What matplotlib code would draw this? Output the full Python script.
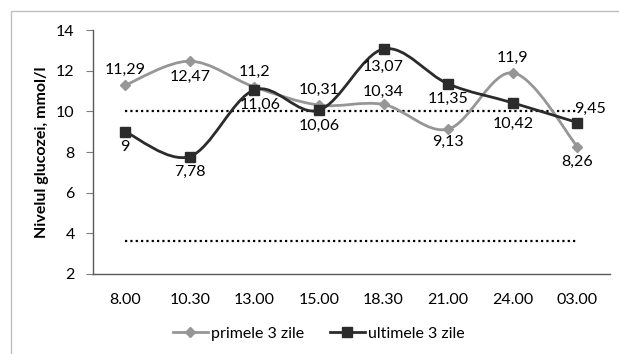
import matplotlib.pyplot as plt
import numpy as np
from matplotlib.path import Path
from matplotlib.patches import PathPatch, Rectangle
from matplotlib.lines import Line2D

plt.rcParams['font.family'] = ['Lato', 'DejaVu Sans']

# ore de masurare si valorile glicemiei
ore = ['8.00', '10.30', '13.00', '15.00', '18.30', '21.00', '24.00', '03.00']
primele = [11.29, 12.47, 11.2, 10.31, 10.34, 9.13, 11.9, 8.26]
ultimele = [9, 7.78, 11.06, 10.06, 13.07, 11.35, 10.42, 9.45]
limita_sus = 10
limita_jos = 3.6

gri = '#969696'
negru = '#2b2b2b'
fs = 11.5


def curba_neteda(x, y):
    # bezier prin puncte (ca la liniile netezite din Excel)
    pts = np.column_stack([x, y]).astype(float)
    n = len(pts)
    verts = [pts[0]]
    codes = [Path.MOVETO]
    for i in range(n - 1):
        p0 = pts[i - 1] if i > 0 else pts[i]
        p1 = pts[i]
        p2 = pts[i + 1]
        p3 = pts[i + 2] if i + 2 < n else pts[i + 1]
        c1 = p1 + (p2 - p0) / 6
        c2 = p2 - (p3 - p1) / 6
        verts += [c1, c2, p2]
        codes += [Path.CURVE4] * 3
    return Path(verts, codes)


fig = plt.figure(figsize=(6.19, 3.54), dpi=100)
ax = fig.add_axes([0.150, 0.226, 0.835, 0.689])

x = np.arange(len(ore))

ax.plot([0, len(ore) - 1], [limita_sus, limita_sus], color='black', linestyle=(0, (1, 1.4)), lw=1.6)
ax.plot([0, len(ore) - 1], [limita_jos, limita_jos], color='black', linestyle=(0, (1, 1.4)), lw=1.6)

ax.add_patch(PathPatch(curba_neteda(x, primele), fill=False, edgecolor=gri, lw=2.0, zorder=3))
ax.plot(x, primele, linestyle='none', marker='D', ms=5, color=gri, zorder=4)
ax.add_patch(PathPatch(curba_neteda(x, ultimele), fill=False, edgecolor=negru, lw=2.0, zorder=5))
ax.plot(x, ultimele, linestyle='none', marker='s', ms=7, color=negru, zorder=6)

# etichete cu valori
def eticheta(v):
    return ('%g' % v).replace('.', ',')

off_primele = [(0, 11), (0, -11), (0, 11), (0, 11), (0, 9), (0, -9), (0, 11), (0, -11)]
off_ultimele = [(0, -11), (0, -11), (4, -11), (0, -11), (0, -13), (0, -11), (0, -15), (9, 10)]
for i, v in enumerate(primele):
    ax.annotate(eticheta(v), (x[i], v), xytext=off_primele[i], textcoords='offset points',
                ha='center', va='center', fontsize=fs, color='black', zorder=7)
for i, v in enumerate(ultimele):
    ax.annotate(eticheta(v), (x[i], v), xytext=off_ultimele[i], textcoords='offset points',
                ha='center', va='center', fontsize=fs, color='black', zorder=7)

ax.set_xlim(-0.5, len(ore) - 0.5)
ax.set_ylim(2, 14)
ax.set_yticks([2, 4, 6, 8, 10, 12, 14])
ax.set_xticks(x)
ax.set_xticklabels(ore)
ax.tick_params(axis='x', length=0, pad=14, labelsize=fs)
ax.tick_params(axis='y', length=5, width=0.8, color='#7f7f7f', pad=8, labelsize=fs)
for s in ['top', 'right']:
    ax.spines[s].set_visible(False)
for s in ['left', 'bottom']:
    ax.spines[s].set_color('#595959')
    ax.spines[s].set_linewidth(1.0)

ax.set_ylabel('Nivelul glucozei, mmol/l', fontsize=fs, fontweight='bold', labelpad=5)

handles = [Line2D([], [], color=gri, lw=2.0, marker='D', ms=5),
           Line2D([], [], color=negru, lw=2.0, marker='s', ms=7)]
fig.legend(handles, ['primele 3 zile', 'ultimele 3 zile'], loc='center',
           bbox_to_anchor=(0.515, 0.058), ncol=2, frameon=False, fontsize=fs,
           handlelength=2.2, handletextpad=0.2, columnspacing=1.6)

# chenarul graficului
fig.patches.append(Rectangle((11 / 619, -0.1), 1.2, 1.1 - 11 / 354,
                             transform=fig.transFigure, fill=False,
                             edgecolor='#bfbfbf', lw=1.0))

fig.savefig('out.png', dpi=100)
